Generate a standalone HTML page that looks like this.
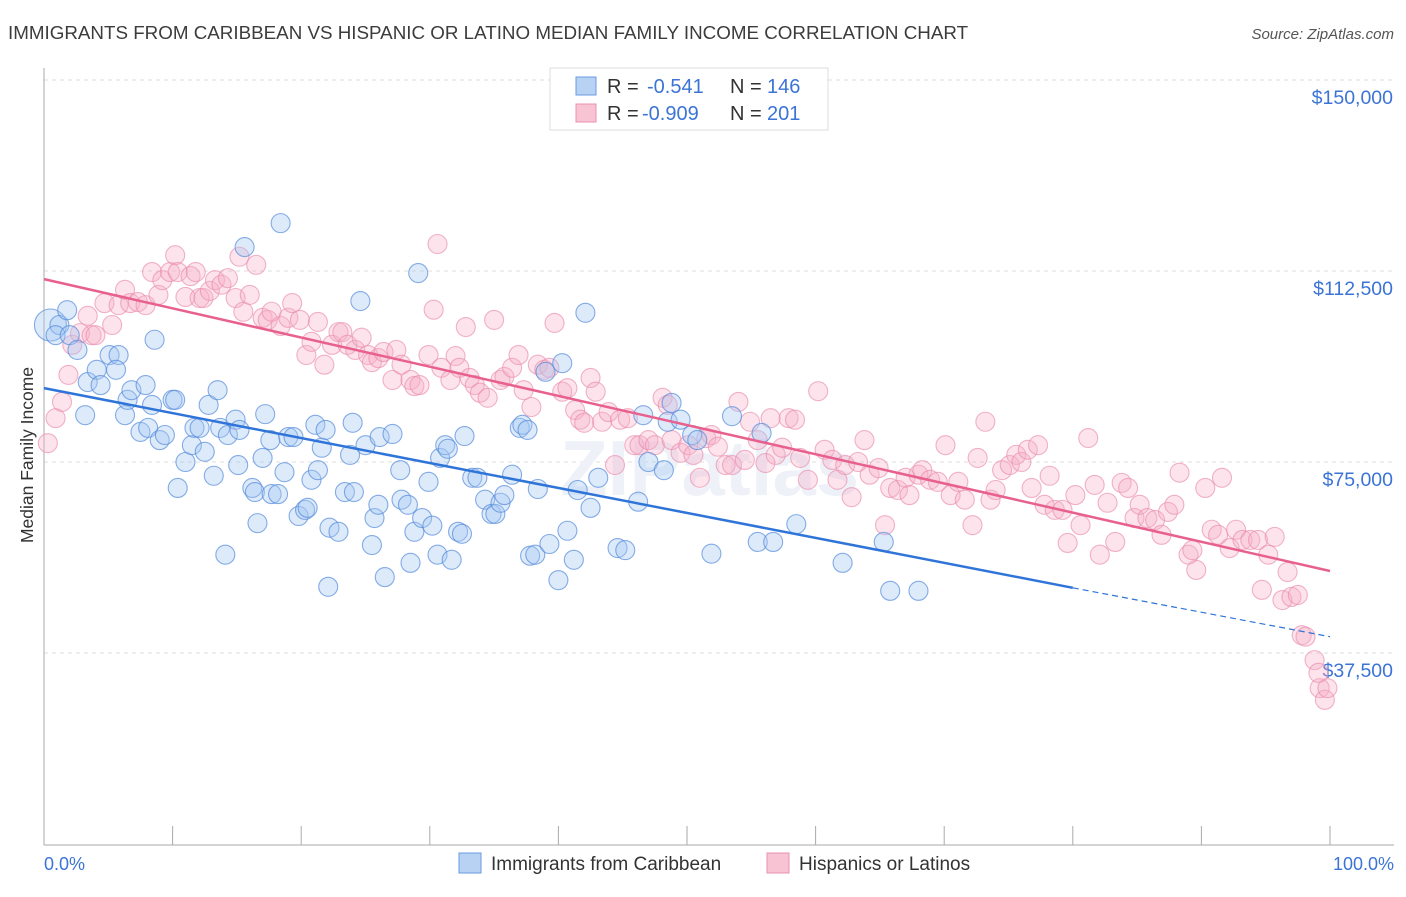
<!DOCTYPE html>
<html><head><meta charset="utf-8"><style>
body{margin:0;background:#fff;font-family:"Liberation Sans",sans-serif;}
svg text{font-family:"Liberation Sans",sans-serif;}
</style></head><body>
<svg id="chart" width="1406" height="892" viewBox="0 0 1406 892" xmlns="http://www.w3.org/2000/svg">
<text x="8" y="39" font-size="18.8" fill="#3c3c3c">IMMIGRANTS FROM CARIBBEAN VS HISPANIC OR LATINO MEDIAN FAMILY INCOME CORRELATION CHART</text>
<text x="1394" y="39" font-size="15" fill="#555" font-style="italic" text-anchor="end">Source: ZipAtlas.com</text>
<g id="grid"></g>
<g id="axes"></g>
<text x="560" y="495" font-size="78" fill="#eef2f8" font-weight="bold">ZIPatlas</text>
<g id="pinkpts"></g>
<g id="bluepts"></g>
<g id="trends"></g>
<text x="33" y="455" font-size="17.5" fill="#333" text-anchor="middle" transform="rotate(-90 33 455)">Median Family Income</text>
<text x="44" y="870" font-size="18" fill="#3b74d6">0.0%</text>
<text x="1394" y="870" font-size="18" fill="#3b74d6" text-anchor="end">100.0%</text>
<g>
<rect x="550" y="68" width="278" height="62" fill="#fff" stroke="#ddd"/>
<rect x="576" y="77" width="20" height="18" fill="#b8d2f4" stroke="#6a9be0"/>
<rect x="576" y="104" width="20" height="18" fill="#f8c4d4" stroke="#e890ae"/>
<text x="607" y="93" font-size="20" fill="#333">R =</text>
<text x="647" y="93" font-size="20" fill="#3b74d6">-0.541</text>
<text x="730" y="93" font-size="20" fill="#333">N =</text>
<text x="767" y="93" font-size="20" fill="#3b74d6">146</text>
<text x="607" y="120" font-size="20" fill="#333">R =</text>
<text x="642" y="120" font-size="20" fill="#3b74d6">-0.909</text>
<text x="730" y="120" font-size="20" fill="#333">N =</text>
<text x="767" y="120" font-size="20" fill="#3b74d6">201</text>
</g>
<g>
<rect x="459" y="853" width="22" height="20" fill="#b8d2f4" stroke="#6a9be0"/>
<text x="491" y="870" font-size="19" fill="#333">Immigrants from Caribbean</text>
<rect x="767" y="853" width="22" height="20" fill="#f8c4d4" stroke="#e890ae"/>
<text x="799" y="870" font-size="19" fill="#333">Hispanics or Latinos</text>
</g>
</svg>
<script>
const yTicks=[150,112.5,75,37.5];
const yTickLabels=["$150,000","$112,500","$75,000","$37,500"];
const xTicks=[0,10,20,30,40,50,60,70,80,90,100];
const blueX=[0.5,1.2,1.8,0.9,2.0,3.2,2.6,3.4,4.1,4.4,5.1,5.8,5.6,6.3,6.5,6.8,7.9,7.5,8.1,8.6,8.4,9.0,9.4,10.0,10.2,10.4,11.0,11.5,11.7,12.1,12.5,12.8,13.2,13.5,13.7,14.1,14.3,14.9,15.1,15.2,15.6,16.2,16.4,16.6,17.0,17.2,17.6,17.7,18.2,18.4,18.7,19.0,19.4,19.8,20.3,20.5,20.8,21.1,21.3,21.6,21.9,22.1,22.2,22.9,23.4,23.8,24.0,24.1,24.6,25.0,25.5,25.7,26.0,26.1,26.5,27.1,27.7,27.8,28.3,28.5,28.8,29.1,29.4,29.9,30.2,30.6,30.8,31.2,31.4,31.7,32.2,32.5,32.7,33.3,33.7,34.3,34.8,35.1,35.5,35.8,36.4,37.0,37.2,37.6,37.8,38.2,38.4,39.0,39.3,40.0,40.3,40.7,41.2,41.5,42.1,42.5,43.1,44.6,45.2,46.2,46.6,47.0,48.2,48.5,48.8,49.5,50.4,50.8,51.9,53.5,55.5,55.8,56.7,58.5,62.1,65.3,65.8,68.0];
const blueY=[101.9,101.9,104.8,99.9,99.9,84.2,97.0,90.7,93.1,90.1,96.0,96.0,93.1,84.2,87.2,89.1,90.1,80.9,81.7,99.0,86.2,79.3,80.3,87.2,87.2,69.9,75.0,78.3,81.7,81.7,77.0,86.2,72.3,89.1,81.7,56.8,80.3,83.3,74.4,81.3,117.2,69.9,69.1,63.0,75.8,84.4,79.3,68.7,68.7,121.9,73.0,79.9,79.9,64.4,65.6,66.0,71.5,82.3,73.4,77.8,81.3,50.5,62.1,61.3,69.1,76.4,82.7,69.1,106.6,78.3,58.7,64.0,66.6,79.9,52.4,80.5,73.4,67.6,66.6,55.2,61.3,112.1,64.0,71.1,62.5,56.8,75.8,78.3,77.6,55.8,61.3,60.9,80.1,71.9,71.9,67.6,64.8,64.8,67.0,68.5,72.5,81.7,82.3,81.3,56.6,56.8,69.7,92.7,58.9,51.8,94.4,61.5,55.8,69.5,104.3,66.0,71.9,58.1,57.7,67.2,84.2,75.0,73.4,82.9,86.6,83.3,80.3,79.3,57.0,84.0,59.3,80.7,59.3,62.8,55.2,59.3,49.7,49.7];
const pinkX=[0.3,0.9,1.4,1.9,2.2,2.8,3.4,3.7,4.0,4.7,5.3,5.8,6.3,6.7,7.3,7.9,8.4,8.9,9.2,9.8,10.2,10.4,11.0,11.4,11.8,12.1,12.4,12.9,13.3,13.8,14.3,14.9,15.2,15.5,16.0,16.5,17.0,17.4,17.7,18.4,19.0,19.3,19.9,20.4,20.8,21.3,21.8,22.4,22.9,23.2,23.6,24.2,24.7,25.2,25.5,26.0,26.4,27.1,27.4,27.8,28.5,28.8,29.2,29.9,30.3,30.6,30.9,31.6,32.0,32.3,32.8,33.1,33.5,33.9,34.5,35.0,35.5,35.8,36.4,36.9,37.3,37.9,38.4,38.9,39.3,39.7,40.3,40.7,41.3,41.7,42.0,42.5,42.9,43.4,43.9,44.4,44.8,45.4,45.9,46.3,47.0,47.5,48.1,48.5,48.8,49.5,50.1,50.5,51.0,51.5,51.9,52.4,53.0,53.5,54.0,54.5,54.9,55.5,56.1,56.5,56.9,57.4,57.9,58.4,58.8,59.4,60.2,60.7,61.3,61.7,62.3,62.8,63.3,63.8,64.2,64.9,65.4,65.8,66.4,67.0,67.3,68.0,68.3,68.9,69.5,70.1,70.5,71.1,71.6,72.2,72.6,73.2,73.6,74.0,74.5,75.1,75.6,76.0,76.5,76.8,77.3,77.8,78.2,78.6,79.2,79.6,80.2,80.6,81.2,81.7,82.1,82.7,83.3,83.8,84.3,84.8,85.2,85.8,86.4,86.9,87.4,87.9,88.3,89.0,89.3,89.6,90.3,90.8,91.3,91.6,92.2,92.7,93.2,93.8,94.4,94.7,95.2,95.7,96.3,96.7,97.0,97.5,97.8,98.1,98.8,99.2,99.6,99.8,99.1];
const pinkY=[78.7,83.6,86.8,92.1,98.0,100.3,103.7,99.9,99.9,106.2,101.9,105.8,108.8,106.2,106.4,105.8,112.3,107.8,110.7,112.3,115.6,112.3,107.4,111.5,112.3,107.2,107.2,108.6,110.7,109.8,111.1,107.2,115.3,104.5,107.8,113.7,103.3,102.9,104.5,101.7,103.3,106.2,102.9,96.0,98.6,102.5,94.1,98.0,100.5,100.5,98.0,97.0,99.4,96.0,94.6,95.4,96.6,91.1,97.0,94.1,91.1,89.9,90.1,96.0,104.9,117.8,93.5,91.1,95.8,93.5,101.5,91.5,90.1,88.6,87.6,102.9,91.1,91.7,93.5,96.0,89.1,85.8,94.1,93.1,93.5,102.3,88.8,89.5,85.2,83.3,82.7,91.5,88.8,82.9,84.8,74.4,83.3,83.6,78.3,78.3,79.3,78.3,87.6,86.2,79.3,76.8,78.3,76.4,71.9,79.7,80.3,78.0,74.4,74.4,86.8,75.4,82.9,79.3,74.8,83.6,76.4,77.8,83.6,83.3,75.8,71.5,88.9,77.4,75.4,71.5,74.4,68.1,75.0,79.3,72.5,73.8,62.6,69.9,69.5,71.9,68.5,72.5,73.4,71.5,71.1,78.3,68.5,71.1,67.6,62.6,75.8,82.9,67.6,69.5,73.4,74.4,76.4,75.0,77.4,69.9,78.3,66.6,72.3,65.6,65.6,59.1,68.5,62.6,79.7,70.5,56.8,67.0,59.3,70.9,69.9,64.0,66.6,64.0,63.6,60.7,65.2,66.6,72.9,56.8,57.7,53.8,69.9,61.7,60.7,71.9,58.1,61.7,59.7,59.7,59.7,49.9,56.8,60.3,47.9,53.4,48.5,48.9,41.0,40.7,36.1,30.6,28.3,30.6,33.6];
const blueTrendX=[0,80,100];
const blueTrendY=[89.5,50.3,40.7];
const pinkTrendX=[0,100];
const pinkTrendY=[110.9,53.6];

const NS="http://www.w3.org/2000/svg";
function xs(p){return 44+p*12.86;}
function ys(k){return 80+(150-k)*5.0933;}
function mk(t,a,parent){const e=document.createElementNS(NS,t);for(const k in a)e.setAttribute(k,a[k]);parent.appendChild(e);return e;}
const grid=document.getElementById('grid'),axes=document.getElementById('axes');
yTicks.forEach((v,i)=>{
  const l=mk('line',{x1:44,x2:1394,y1:ys(v),y2:ys(v),stroke:'#dcdcdc','stroke-dasharray':'4,4'},grid);
  
  
  const t=mk('text',{x:1393,y:ys(v)+24,'font-size':19.5,fill:'#3b74d6','text-anchor':'end'},grid);
  t.textContent=yTickLabels[i];
  
  
});
const ax=mk('line',{x1:44,x2:44,y1:68,y2:845,stroke:'#aaa'},axes);


const bx=mk('line',{x1:44,x2:1394,y1:845,y2:845,stroke:'#aaa'},axes);


xTicks.forEach(p=>{
  const t=mk('line',{x1:xs(p),x2:xs(p),y1:826,y2:845,stroke:'#aaa'},axes);
  
  
});
const pg=document.getElementById('pinkpts');
pinkX.forEach((p,i)=>{
  const c=mk('circle',{cx:xs(p),cy:ys(pinkY[i]),r:9.5,fill:'rgba(246,175,200,0.35)',stroke:'rgba(234,140,172,0.65)','stroke-width':1.1},pg);
  
  
});
const bg=document.getElementById('bluepts');
blueX.forEach((p,i)=>{
  const c=mk('circle',{cx:xs(p),cy:ys(blueY[i]),r:i===0?16:9.5,fill:'rgba(165,200,242,0.38)',stroke:'rgba(80,136,218,0.68)','stroke-width':1.1},bg);
  
  
});
const tg=document.getElementById('trends');
const b1=mk('line',{x1:xs(blueTrendX[0]),y1:ys(blueTrendY[0]),x2:xs(blueTrendX[1]),y2:ys(blueTrendY[1]),stroke:'#2f74d8','stroke-width':2.5},tg);


const b2=mk('line',{x1:xs(blueTrendX[1]),y1:ys(blueTrendY[1]),x2:xs(blueTrendX[2]),y2:ys(blueTrendY[2]),stroke:'#2f74d8','stroke-width':1.2,'stroke-dasharray':'6,4'},tg);


const p1=mk('line',{x1:xs(pinkTrendX[0]),y1:ys(pinkTrendY[0]),x2:xs(pinkTrendX[1]),y2:ys(pinkTrendY[1]),stroke:'#e8618e','stroke-width':2.5},tg);


</script>
</body></html>
